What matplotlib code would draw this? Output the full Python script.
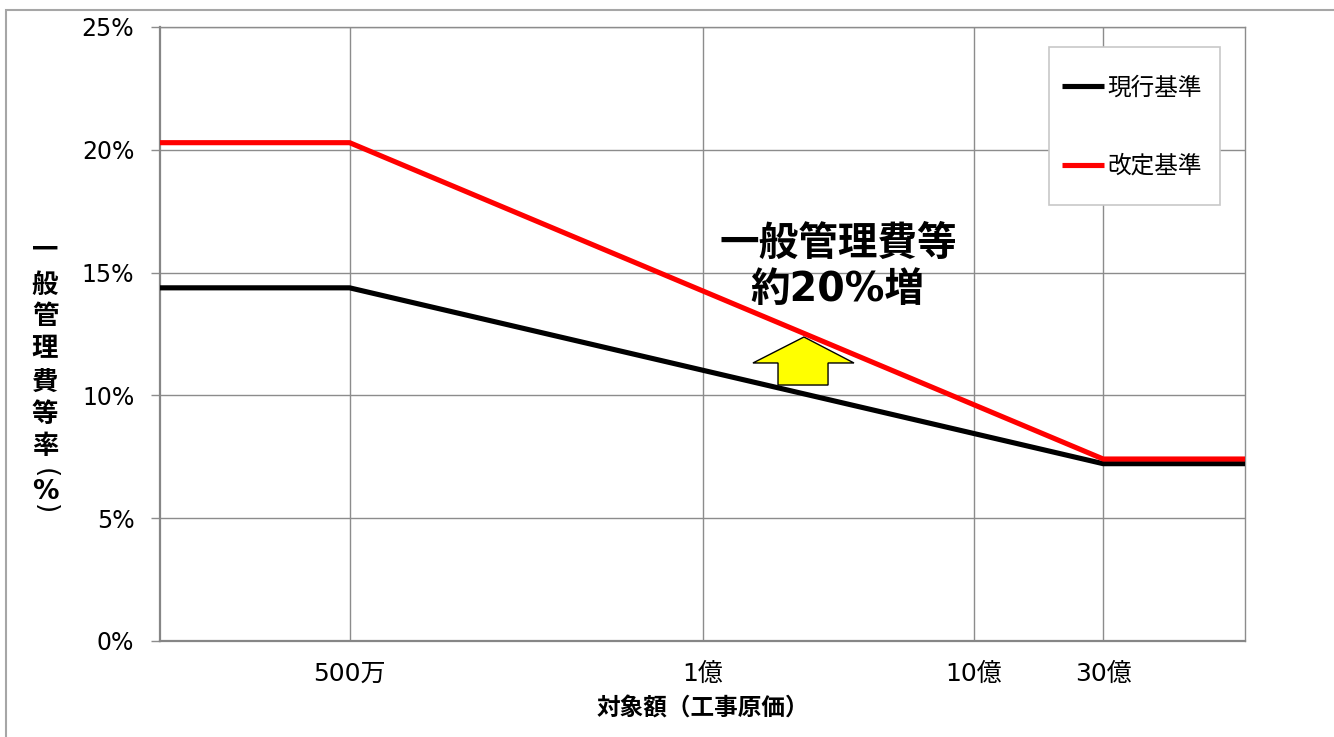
import matplotlib
matplotlib.use("Agg")
import matplotlib.pyplot as plt
from matplotlib.patches import Polygon, Rectangle
from matplotlib.ticker import FixedLocator, NullLocator

# digits look Verdana-like, so DejaVu first and Noto CJK for kanji
plt.rcParams['font.family'] = ['DejaVu Sans', 'Noto Sans CJK JP']
CJK = ['Noto Sans CJK JP', 'DejaVu Sans']

# 対象額 (円) と一般管理費等率 (%)
amounts = [1e6, 5e6, 3e9, 1e10]
current_rate = [14.38, 14.38, 7.22, 7.22]
revised_rate = [20.29, 20.29, 7.41, 7.41]
series_names = ["現行基準", "改定基準"]

x_ticks = [5e6, 1e8, 1e9, 3e9]
x_tick_labels = ["500万", "1億", "10億", "30億"]
y_ticks = [0, 5, 10, 15, 20, 25]

W, H = 1334, 737
fig = plt.figure(figsize=(W / 100, H / 100), dpi=100)
ax = fig.add_axes([160 / W, (H - 641) / H, 1085 / W, 614 / H])

grid_c = "#8c8c8c"
ax.plot(amounts, current_rate, color="black", lw=3.7, label=series_names[0],
        solid_capstyle="butt", zorder=4)
ax.plot(amounts, revised_rate, color="#ff0000", lw=3.7, label=series_names[1],
        solid_capstyle="butt", zorder=4)

ax.set_xscale("log")
ax.set_xlim(1e6, 1e10)
ax.set_ylim(0, 25)
ax.xaxis.set_major_locator(FixedLocator(x_ticks))
ax.xaxis.set_minor_locator(NullLocator())
ax.set_xticklabels(x_tick_labels)
ax.set_yticks(y_ticks)
ax.set_yticklabels([f"{v}%" for v in y_ticks])

ax.grid(True, color=grid_c, lw=1.0, zorder=1)
ax.set_axisbelow(True)
ax.tick_params(axis="x", length=0, pad=15, labelsize=18)
ax.tick_params(axis="y", length=6.5, width=1, color=grid_c, pad=12, labelsize=17)
for side in ["left", "bottom"]:
    ax.spines[side].set_color("#868686")
    ax.spines[side].set_linewidth(1.6)
for side in ["top", "right"]:
    ax.spines[side].set_color(grid_c)
    ax.spines[side].set_linewidth(1.0)

ax.set_xlabel("対象額（工事原価）", fontsize=17, fontweight="bold", labelpad=8,
              family=CJK)

# y label written vertically, one character at a time (parens turned sideways)
ylab_chars = list("一般管理費等率") + ["(", "%", ")"]
ylab_y = [250, 285, 317, 349, 382, 414, 447, 473, 492, 509]
for ch, yy in zip(ylab_chars, ylab_y):
    if ch in "()":
        fig.text(45 / W, 1 - yy / H, ch, ha="center", va="center", fontsize=19,
                 rotation=-90, family=['DejaVu Sans'])
    else:
        fam = ['DejaVu Sans'] if ch == "%" else CJK
        fig.text(45 / W, 1 - yy / H, ch, ha="center", va="center", fontsize=19,
                 fontweight="bold", family=fam)

# legend box
ax.add_patch(Rectangle((0.8194, 0.7101), 0.1576, 0.2573, transform=ax.transAxes,
                       facecolor="white", edgecolor="#c8c8c8", lw=1.2, zorder=5))
ax.legend(loc="center left", bbox_to_anchor=(0.8313, 0.8370), frameon=False,
          prop={"family": CJK, "size": 17}, handlelength=1.8, handletextpad=0.12,
          labelspacing=2.35, borderpad=0, borderaxespad=0).set_zorder(6)

# 増加を示す矢印
arrow_pts = [(0.5935, 0.4951), (0.6396, 0.4528), (0.6157, 0.4528), (0.6157, 0.4169),
             (0.5696, 0.4169), (0.5696, 0.4528), (0.5465, 0.4528)]
ax.add_patch(Polygon(arrow_pts, closed=True, transform=ax.transAxes,
                     facecolor="#ffff00", edgecolor="black", lw=1.0, zorder=3))
ax.text(0.6249, 0.6482, "一般管理費等", transform=ax.transAxes, ha="center",
        va="center", fontsize=28.5, fontweight="bold", zorder=6, family=CJK)
ax.text(0.6240, 0.5717, "約20%増", transform=ax.transAxes, ha="center",
        va="center", fontsize=28.5, fontweight="bold", zorder=6)

# outer frame
fig.add_artist(Rectangle((6 / W, -0.5), 2, 0.5 + (H - 10) / H,
                         transform=fig.transFigure, fill=False,
                         edgecolor="#a6a6a6", lw=1.5))

fig.savefig("out.png", dpi=100)
